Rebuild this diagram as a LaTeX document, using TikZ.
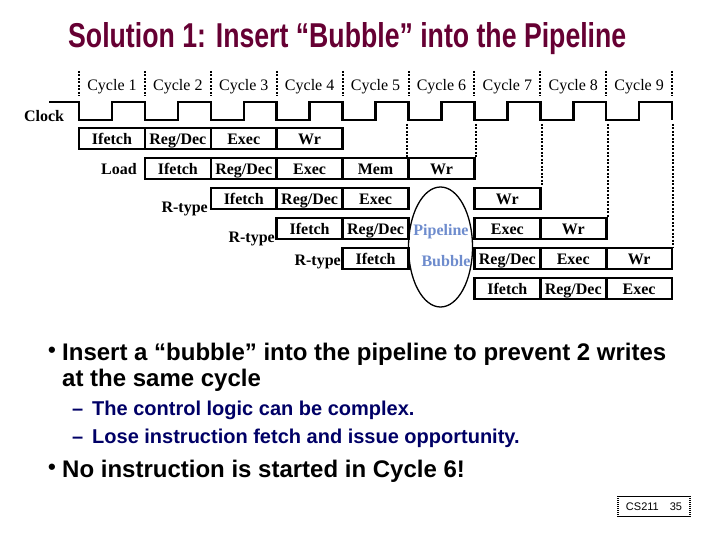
\documentclass[tikz,border=0pt]{standalone}
\usepackage{fontspec}
\usepackage{graphicx}
\usepackage{tikz}
\usetikzlibrary{shapes.geometric}
\setmainfont{Liberation Serif}
\setsansfont{Liberation Sans}
\definecolor{titlered}{RGB}{102,0,51}
\definecolor{subblue}{RGB}{0,0,102}
\definecolor{bubbleblue}{RGB}{110,140,205}

\begin{document}
\begin{tikzpicture}[x=1pt,y=-1pt,
  stage/.style={draw,line width=2.6pt,minimum width=65.9pt,minimum height=21pt,inner sep=0pt,
    text height=12pt,text depth=0pt,font=\bfseries\fontsize{16}{16}\selectfont},
  lbl/.style={inner sep=0pt,text height=12pt,text depth=0pt,font=\bfseries\fontsize{16}{16}\selectfont},
  cyc/.style={inner sep=0pt,anchor=base,font=\fontsize{16}{16}\selectfont},
  tick/.style={line width=2pt,dash pattern=on 2pt off 1.5pt},
  clk/.style={line width=2.5pt},
  bul/.style={inner sep=0pt,align=left,font=\sffamily\bfseries\fontsize{24}{26}\selectfont},
  dot/.style={inner sep=0pt,font=\sffamily\bfseries\fontsize{22}{22}\selectfont},
  sub/.style={inner sep=0pt,text=subblue,font=\sffamily\bfseries\fontsize{20}{20}\selectfont}]
  \useasboundingbox (0,0) rectangle (720,540);
  % title
  \node[anchor=base west,inner sep=0pt,text=titlered] (title) at (68,48)
    {\resizebox{558pt}{25pt}{\sffamily\bfseries Solution 1: Insert “Bubble” into the Pipeline}};
  % cycle marks and labels
  \foreach \k in {0,...,9} \draw[tick] (79+65.9*\k,71) -- (79+65.9*\k,96);
  \foreach \k in {1,...,9} \node[cyc] (cyc\k) at (79+65.9*\k-32.95,91) {Cycle \k};
  % the clock
  \node[lbl] (clock) at (44,116) {Clock};
  \draw[clk] (49,102) -- (79,102)
    \foreach \k in {1,...,9} { -- ++(0,18) -- ++(32.95,0) -- ++(0,-18) -- ++(32.95,0) } -- ++(0,18);
  % pipeline stages: row/cycle/text
  \foreach \r/\c/\t in {1/1/Ifetch,1/2/{Reg/Dec},1/3/Exec,1/4/Wr,
      2/2/Ifetch,2/3/{Reg/Dec},2/4/Exec,2/5/Mem,2/6/Wr,
      3/3/Ifetch,3/4/{Reg/Dec},3/5/Exec,3/7/Wr,
      4/4/Ifetch,4/5/{Reg/Dec},4/7/Exec,4/8/Wr,
      5/5/Ifetch,5/7/{Reg/Dec},5/8/Exec,5/9/Wr,
      6/7/Ifetch,6/8/{Reg/Dec},6/9/Exec}
    \node[stage] (r\r-\c) at (79+65.9*\c-32.95,138.5+30*\r-30) {\t};
  % instruction names
  \node[lbl,anchor=east] (load) at (137,169) {Load};
  \node[lbl,anchor=east] (rt1) at (208,206) {R-type};
  \node[lbl,anchor=east] (rt2) at (275,236) {R-type};
  \node[lbl,anchor=east] (rt3) at (341,259) {R-type};
  % marks down to the late stages
  \foreach \p in {r2-6.north west,r2-6.north east,r3-7.north east,r4-8.north east,r5-9.north east}
    \draw[tick] (\p |- 0,124) -- (\p);
  % the bubble
  \node[draw,ellipse,line width=1.3pt,minimum width=64pt,minimum height=120pt] (bubble) at (440.5,247) {};
  \node[lbl,text=bubbleblue] (pipe) at (441,230) {Pipeline};
  \node[lbl,text=bubbleblue] (bub) at (446,260) {Bubble};
  % text below
  \node[dot,anchor=base west] (dot1) at (48,357) {•};
  \node[bul,anchor=base west] (b1) at (62,386) {Insert a “bubble” into the pipeline to prevent 2 writes\\at the same cycle};
  \node[sub,anchor=base west] (d1) at (72,415) {–};
  \node[sub,anchor=base west] (s1) at (92,415) {The control logic can be complex.};
  \node[sub,anchor=base west] (d2) at (72,443) {–};
  \node[sub,anchor=base west] (s2) at (92,443) {Lose instruction fetch and issue opportunity.};
  \node[dot,anchor=base west] (dot2) at (48,474) {•};
  \node[bul,anchor=base west] (b2) at (62,477) {No instruction is started in Cycle 6!};
  % page number
  \node[inner sep=0pt,minimum width=72pt,minimum height=20pt,font=\sffamily\fontsize{11}{11}\selectfont] (pg) at (654,506.5) {CS211\quad 35};
  \draw[line width=1pt] (pg.north west) -- (pg.north east) (pg.south west) -- (pg.south east);
  \draw[line width=1.5pt,dash pattern=on 1pt off 1pt] (pg.north west) -- (pg.south west) (pg.north east) -- (pg.south east);
\end{tikzpicture}
\end{document}
